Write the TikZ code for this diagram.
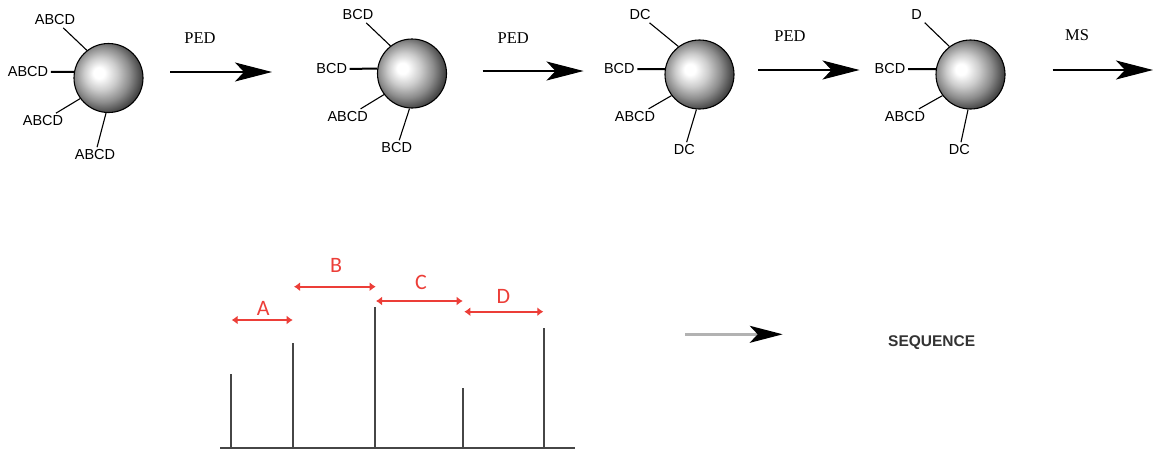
\documentclass[tikz,border=0pt]{standalone}
\usepackage{fontspec}
\setmainfont{Liberation Serif}
\newfontfamily\labfont{Liberation Sans}
\newfontfamily\redfont{Carlito}
\usetikzlibrary{arrows.meta}
\definecolor{peakred}{RGB}{236,62,56}
\definecolor{bargray}{RGB}{70,70,70}
% glossy sphere: highlight left of centre, dark towards the lower right rim
% (rim of the filled circle sits at 25bp in shading coordinates)
\pgfdeclareradialshading{beadshade}{\pgfpoint{-7.5bp}{4bp}}{%
  color(0bp)=(white); color(4bp)=(white); color(12bp)=(black!20);
  color(20bp)=(black!45); color(27bp)=(black!72); color(33bp)=(black!90);
  color(50bp)=(black)}
\tikzset{
  bead/.style={circle, draw=black, line width=1.1pt, minimum size=69pt, inner sep=0pt,
    shading=beadshade},
  tag/.style={font=\labfont\fontsize{14.5}{15}\selectfont, inner sep=2.5pt},
  arm/.style={line width=1.1pt},
  armthick/.style={line width=2pt},
  steplabel/.style={font=\fontsize{16.5}{18}\selectfont},
  bigarrow/.style={line width=1.1pt, -{Stealth[length=37pt,width=19pt,inset=9pt]}},
  peak/.style={draw=bargray, line width=2.2pt},
  span/.style={draw=peakred, line width=1.8pt, {Latex[length=6pt,width=9pt]}-{Latex[length=6pt,width=9pt]}},
  spanlabel/.style={text=peakred, font=\redfont\fontsize{22}{23}\selectfont, inner sep=0pt}
}
\begin{document}
\begin{tikzpicture}[x=1pt,y=-1pt]
\useasboundingbox (0,0) rectangle (1153,450);

% ---- bead 1 ----
\node[bead] (s1) at (108.5,78) {};
\node[tag] (s1a) at (55,20) {ABCD};
\node[tag] (s1b) at (28,72) {ABCD};
\node[tag] (s1c) at (43,121) {ABCD};
\node[tag] (s1d) at (95,155) {ABCD};
\draw[arm] (s1.128) -- (s1a);
\draw[armthick] (s1.170) -- (s1b);
\draw[arm] (s1.216) -- (s1c);
\draw[arm] (s1.266) -- (s1d);

% ---- bead 2 ----
\node[bead] (s2) at (412,73.5) {};
\node[tag] (s2a) at (358,15) {BCD};
\node[tag] (s2b) at (331.7,69) {BCD};
\node[tag] (s2c) at (347.7,116.7) {ABCD};
\node[tag] (s2d) at (396.7,148) {BCD};
\draw[arm] (s2.128) -- (s2a);
\draw[armthick] (s2.172) -- (s2b);
\draw[arm] (s2.217) -- (s2c);
\draw[arm] (s2.266) -- (s2d);

% ---- bead 3 ----
\node[bead] (s3) at (699.5,74.5) {};
\node[tag] (s3a) at (640,15) {DC};
\node[tag] (s3b) at (619.3,69) {BCD};
\node[tag] (s3c) at (635,116.7) {ABCD};
\node[tag] (s3d) at (684.3,150) {DC};
\draw[arm] (s3.127) -- (s3a);
\draw[armthick] (s3.171) -- (s3b);
\draw[arm] (s3.217) -- (s3c);
\draw[arm] (s3.265) -- (s3d);

% ---- bead 4 ----
\node[bead] (s4) at (970.5,74.5) {};
\node[tag] (s4a) at (916.7,15) {D};
\node[tag] (s4b) at (890,69) {BCD};
\node[tag] (s4c) at (905,116.7) {ABCD};
\node[tag] (s4d) at (959.3,150) {DC};
\draw[arm] (s4.127) -- (s4a);
\draw[armthick] (s4.171) -- (s4b);
\draw[arm] (s4.217) -- (s4c);
\draw[arm] (s4.266) -- (s4d);

% ---- reaction arrows ----
\coordinate (a1s) at (170,72);   \coordinate (a1e) at (272,72);
\coordinate (a2s) at (482.7,71); \coordinate (a2e) at (583.5,71);
\coordinate (a3s) at (758.3,70); \coordinate (a3e) at (859.5,70);
\coordinate (a4s) at (1052.7,70);\coordinate (a4e) at (1153,70);
\draw[bigarrow] (a1s) -- (a1e);
\draw[bigarrow] (a2s) -- (a2e);
\draw[bigarrow] (a3s) -- (a3e);
\draw[bigarrow] (a4s) -- (a4e);
\node[steplabel] (p1) at (200,38) {PED};
\node[steplabel] (p2) at (513.3,38) {PED};
\node[steplabel] (p3) at (790,36) {PED};
\node[steplabel] (p4) at (1077,35) {MS};

% ---- peak trace ----
\draw[peak] (220,448.3) -- (575,448.3);
\draw[peak] (230.7,448.3) -- (230.7,374);
\draw[peak] (293.3,448.3) -- (293.3,343.3);
\draw[peak] (375,448.3) -- (375,306.7);
\draw[peak] (462.7,448.3) -- (462.7,387.7);
\draw[peak] (544,448.3) -- (544,328.3);

% ---- fragment spans ----
\draw[span] (231.7,320) -- (292.7,320);
\draw[span] (294,286.7) -- (375.7,286.7);
\draw[span] (376,301) -- (462.7,301);
\draw[span] (464.3,311.7) -- (543.3,311.7);
\node[spanlabel] (la) at (263.3,308.3) {A};
\node[spanlabel] (lb) at (336,265) {B};
\node[spanlabel] (lc) at (421,282.7) {C};
\node[spanlabel] (ld) at (503.3,296.7) {D};

% ---- result ----
\coordinate (rs) at (685,334.3);
\coordinate (re) at (782.7,334.3);
\draw[draw=gray!60, line width=2.4pt, -{Stealth[length=33pt,width=17pt,inset=8pt,color=black]}] (rs) -- (re);
\node[font=\labfont\bfseries\fontsize{15.5}{16}\selectfont, text=black!80] (seq) at (931.7,342.7) {SEQUENCE};
\end{tikzpicture}
\end{document}
